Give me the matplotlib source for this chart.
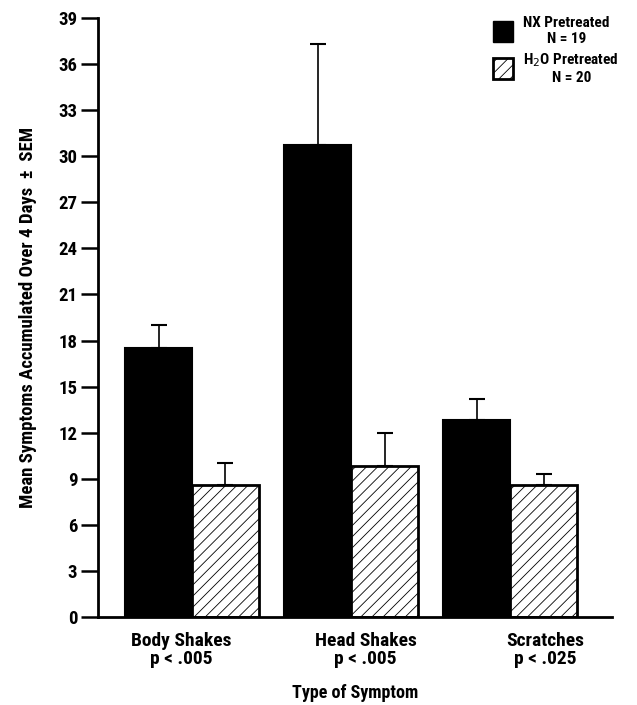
import numpy as np
import matplotlib.pyplot as plt
from matplotlib.patches import Patch

# values
symptoms = ["Body Shakes\np < .005", "Head Shakes\np < .005", "Scratches\np < .025"]
nx_mean = [17.5, 30.7, 12.8]
nx_sem = [1.5, 6.6, 1.4]
h2o_mean = [8.6, 9.85, 8.6]
h2o_sem = [1.4, 2.15, 0.7]
yticks = list(range(0, 40, 3))

plt.rcParams['font.family'] = ['Roboto Condensed', 'DejaVu Sans']
plt.rcParams['hatch.linewidth'] = 0.6
plt.rcParams['hatch.color'] = '#555555'

fig = plt.figure(figsize=(6.37, 7.05), dpi=100)
ax = fig.add_axes([0.154, 0.1248, 0.807, 0.8497])

x = np.arange(len(symptoms))
w = 0.42

ax.bar(x - w / 2, nx_mean, w, color="black", edgecolor="black", linewidth=1.5,
       yerr=[np.zeros(3), nx_sem], error_kw=dict(ecolor="black", elinewidth=1.2, capsize=6, capthick=1.5))
ax.bar(x + w / 2, h2o_mean, w, color="white", edgecolor="black", linewidth=2, hatch="///",
       yerr=[np.zeros(3), h2o_sem], error_kw=dict(ecolor="black", elinewidth=1.2, capsize=6, capthick=1.5))

ax.set_ylim(0, 39)
ax.set_xlim(-0.59, 2.64)
ax.set_yticks(yticks)
ax.set_yticklabels([str(t) for t in yticks], fontsize=13.5, fontweight="bold")
# the category labels sit a little off the group centres in the original
ax.set_xticks(x + np.array([-0.07, 0.09, 0.22]))
ax.set_xticklabels(symptoms, fontsize=14, fontweight="bold", linespacing=1.0)
ax.tick_params(axis="y", length=12, width=1.8, direction="out", pad=3)
ax.tick_params(axis="x", length=0, pad=11)

for s in ["top", "right"]:
    ax.spines[s].set_visible(False)
for s in ["left", "bottom"]:
    ax.spines[s].set_linewidth(2)

ax.set_ylabel("Mean Symptoms Accumulated Over 4 Days  \u00b1  SEM", fontsize=13.5, fontweight="bold", labelpad=15)
ax.set_xlabel("Type of Symptom", fontsize=13, fontweight="bold", labelpad=11)

handles = [Patch(facecolor="black", edgecolor="black"),
           Patch(facecolor="white", edgecolor="black", linewidth=2, hatch="///")]
labels = ["NX Pretreated\nN = 19", "H$_2$O Pretreated\nN = 20"]
leg = ax.legend(handles, labels, loc="upper right", bbox_to_anchor=(1.04, 1.026), frameon=False,
                fontsize=11, handlelength=1.3, handleheight=1.7, handletextpad=0.7, labelspacing=0.3)
for t in leg.get_texts():
    t.set_fontweight("bold")
    t.set_multialignment("center")

fig.savefig("out.png", dpi=100)
